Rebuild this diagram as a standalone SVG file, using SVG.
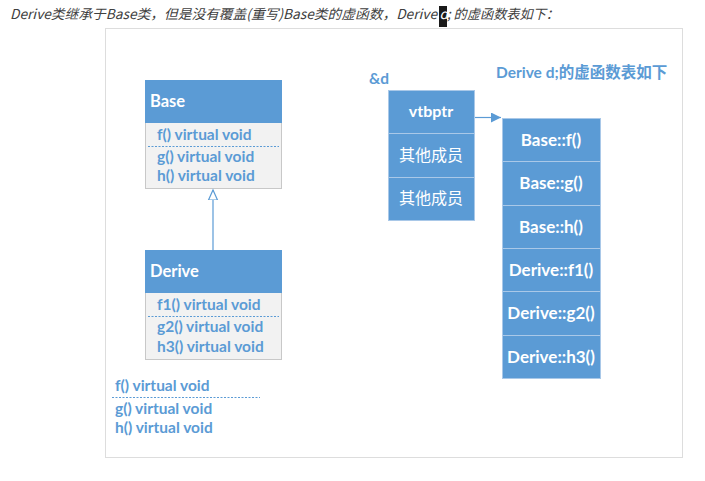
<svg xmlns="http://www.w3.org/2000/svg" width="705" height="481" viewBox="0 0 705 481">
<defs>
<style>
.title{font-family:"Noto Sans CJK SC","Liberation Sans",sans-serif;font-style:italic;font-size:13.5px;fill:#404040}
.hdr{fill:#5B9BD5;stroke:#5B9BD5}
.body{fill:#F2F2F2;stroke:#C8C8C8;stroke-width:1}
.htxt{font-family:Lato,"Noto Sans CJK SC",sans-serif;font-weight:bold;font-size:16.5px;fill:#ffffff}
.btxt{font-family:Lato,"Noto Sans CJK SC",sans-serif;font-weight:bold;font-size:15.5px;fill:#5B9BD5}
.cell{fill:#5B9BD5;stroke:#A9C8E8;stroke-width:1}
.ctxt{font-family:Lato,"Noto Sans CJK SC",sans-serif;font-weight:bold;font-size:17px;fill:#ffffff;text-anchor:middle}
.cjk{font-family:"Noto Sans CJK SC",sans-serif;font-size:16px;fill:#ffffff;text-anchor:middle}
.dash{stroke:#5B9BD5;stroke-width:1;stroke-dasharray:2 1.5}
.conn{stroke:#5B9BD5;stroke-width:1.2;fill:none}
</style>
<marker id="hollow" markerWidth="12" markerHeight="14" refX="10" refY="5" orient="auto" markerUnits="userSpaceOnUse" viewBox="0 0 12 10">
<path d="M0,0.5 L10,5 L0,9.5 Z" fill="#ffffff" stroke="#5B9BD5" stroke-width="1.2"/>
</marker>
<marker id="solid" markerWidth="10" markerHeight="10" refX="10" refY="5" orient="auto" markerUnits="userSpaceOnUse" viewBox="0 0 10 10">
<path d="M0,0 L10,5 L0,10 Z" fill="#5B9BD5"/>
</marker>
</defs>
<rect width="705" height="481" fill="#ffffff"/>
<g id="title">
<rect x="439" y="6" width="8" height="21" fill="#1a1a1a"/>
<text class="title" x="10" y="19" textLength="427" lengthAdjust="spacingAndGlyphs">Derive类继承于Base类，但是没有覆盖(重写)Base类的虚函数，Derive</text>
<text class="title" x="439.5" y="19" fill="#ffffff" style="fill:#ffffff">d</text>
<text class="title" x="447" y="19" textLength="112" lengthAdjust="spacingAndGlyphs">; 的虚函数表如下：</text>
</g>
<rect id="frame" x="105.5" y="28.5" width="577" height="429" fill="#ffffff" stroke="#DDDDDD" stroke-width="1"/>
<g id="base">
<rect class="body" x="145.5" y="122.5" width="136" height="66"/>
<rect class="hdr" x="145.5" y="80.5" width="136" height="42"/>
<text class="htxt" x="150" y="107">Base</text>
<text class="btxt" x="157" y="140">f() virtual void</text>
<line class="dash" x1="148" y1="146.5" x2="279" y2="146.5"/>
<text class="btxt" x="157" y="162">g() virtual void</text>
<text class="btxt" x="157" y="181">h() virtual void</text>
</g>
<g id="derive">
<rect class="body" x="145.5" y="292.5" width="136" height="67"/>
<rect class="hdr" x="145.5" y="250.5" width="136" height="42"/>
<text class="htxt" x="150" y="277">Derive</text>
<text class="btxt" x="157" y="310">f1() virtual void</text>
<line class="dash" x1="148" y1="316.5" x2="279" y2="316.5"/>
<text class="btxt" x="157" y="332">g2() virtual void</text>
<text class="btxt" x="157" y="352">h3() virtual void</text>
</g>
<g id="notes">
<text class="btxt" x="115" y="391">f() virtual void</text>
<line class="dash" x1="112" y1="397.5" x2="260" y2="397.5"/>
<text class="btxt" x="115" y="414">g() virtual void</text>
<text class="btxt" x="115" y="433">h() virtual void</text>
</g>
<g id="object">
<text class="btxt" x="369" y="84">&amp;d</text>
<rect class="cell" x="388.5" y="90.5" width="86" height="43"/>
<rect class="cell" x="388.5" y="133.5" width="86" height="44"/>
<rect class="cell" x="388.5" y="177.5" width="86" height="43"/>
<text class="ctxt" x="431" y="117" style="font-size:16px">vtbptr</text>
<text class="cjk" x="431" y="161">其他成员</text>
<text class="cjk" x="431" y="204">其他成员</text>
</g>
<g id="vtable">
<text class="btxt" x="496" y="78">Derive d;的虚函数表如下</text>
<rect class="cell" x="502.5" y="118.5" width="98" height="43"/>
<rect class="cell" x="502.5" y="161.5" width="98" height="44"/>
<rect class="cell" x="502.5" y="205.5" width="98" height="43"/>
<rect class="cell" x="502.5" y="248.5" width="98" height="43"/>
<rect class="cell" x="502.5" y="291.5" width="98" height="44"/>
<rect class="cell" x="502.5" y="335.5" width="98" height="43"/>
<text class="ctxt" x="551" y="146">Base::f()</text>
<text class="ctxt" x="551" y="189">Base::g()</text>
<text class="ctxt" x="551" y="233">Base::h()</text>
<text class="ctxt" x="551" y="276">Derive::f1()</text>
<text class="ctxt" x="551" y="319">Derive::g2()</text>
<text class="ctxt" x="551" y="363">Derive::h3()</text>
</g>
<g id="connectors">
<line class="conn" x1="213" y1="250" x2="213" y2="190" marker-end="url(#hollow)"/>
<line class="conn" x1="475" y1="117.5" x2="501" y2="117.5" marker-end="url(#solid)"/>
</g>
</svg>
